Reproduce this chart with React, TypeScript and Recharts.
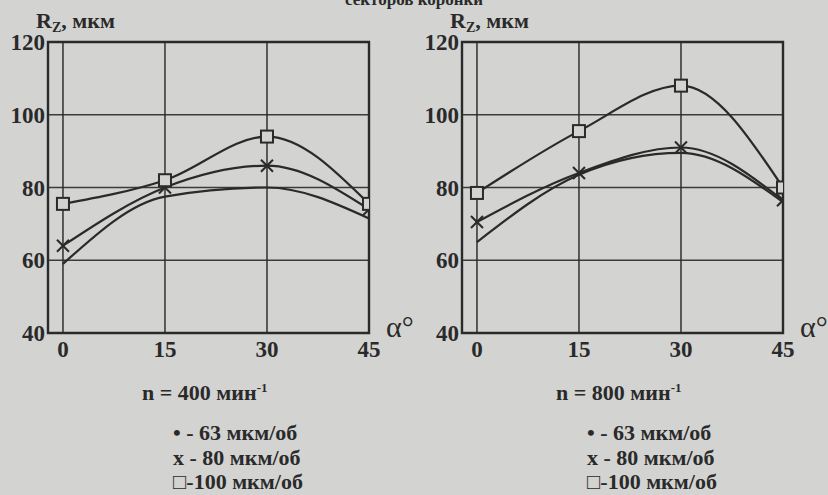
import * as React from 'react'
import { CartesianGrid, Line, LineChart, ReferenceArea, XAxis, YAxis } from 'recharts'

// DATA

const ANGLES = [0, 15, 30, 45]
const Y_TICKS = [40, 60, 80, 100, 120]

const RZ_400_63 = [59, 77.5, 80, 71.5]
const RZ_400_80 = [64, 80, 86, 74]
const RZ_400_100 = [75.5, 82, 94, 75.5]

const RZ_800_63 = [65, 83.5, 89.5, 76]
const RZ_800_80 = [70.5, 84, 91, 76.5]
const RZ_800_100 = [78.5, 95.5, 108, 80]

const FEEDS = ['63 мкм/об', '80 мкм/об', '100 мкм/об']
const FEED_MARKS = ['•', 'x', '□']
const SPEEDS = ['400', '800']

// STYLE

const BG = '#d3d3d1'
const INK = '#2a2a2a'
const FONT = '"Liberation Serif", "DejaVu Serif", serif'
const X_MIN = -2.2

const tickStyle = { fill: INK, fontFamily: FONT, fontWeight: 'bold', fontSize: 23 }
const textStyle: React.CSSProperties = { position: 'absolute', fontFamily: FONT, fontWeight: 'bold', fontSize: 22, color: INK, whiteSpace: 'nowrap', lineHeight: '26px' }

const CrossDot = (props: any) => {
    const { cx, cy } = props
    if (cx == null || cy == null) return null
    return (
        <g stroke={INK} strokeWidth={2}>
            <line x1={cx - 6} y1={cy - 6} x2={cx + 6} y2={cy + 6}/>
            <line x1={cx - 6} y1={cy + 6} x2={cx + 6} y2={cy - 6}/>
        </g>
    )
}

const SquareDot = (props: any) => {
    const { cx, cy } = props
    if (cx == null || cy == null) return null
    return <rect x={cx - 6} y={cy - 6} width={12} height={12} fill={BG} stroke={INK} strokeWidth={2}/>
}

const Panel = (props: { left: number, rows: number[][], speed: string }) => {
    const data = ANGLES.map((a, i) => ({ a, s63: props.rows[0][i], s80: props.rows[1][i], s100: props.rows[2][i] }))

    return (
        <div style={{ position: 'absolute', left: props.left, top: 0, width: 414, height: 495 }}>
            <LineChart width={414} height={495} data={data} margin={{ top: 42, right: 45, bottom: 132, left: 8 }}>
                <XAxis dataKey='a' type='number' domain={[X_MIN, 45]} ticks={ANGLES} height={30} axisLine={false} tickLine={false} tickMargin={2} tick={tickStyle} allowDataOverflow/>
                <YAxis type='number' domain={[40, 120]} ticks={Y_TICKS} width={40} axisLine={false} tickLine={false} tickSize={0} tickMargin={3} tick={tickStyle}/>
                <CartesianGrid stroke={INK} strokeWidth={1.6} strokeOpacity={0.9}/>
                <ReferenceArea x1={X_MIN} x2={45} y1={40} y2={120} fill='none' stroke={INK} strokeWidth={2.4} ifOverflow='extendDomain'/>
                <Line type='monotone' dataKey='s63' isAnimationActive={false} stroke={INK} strokeWidth={2.2} dot={false}/>
                <Line type='monotone' dataKey='s80' isAnimationActive={false} stroke={INK} strokeWidth={2.2} dot={<CrossDot/>}/>
                <Line type='monotone' dataKey='s100' isAnimationActive={false} stroke={INK} strokeWidth={2.2} dot={<SquareDot/>}/>
            </LineChart>
            <div style={{ ...textStyle, left: 36, top: 11, lineHeight: '19px' }}>
                R<span style={{ fontSize: 14, position: 'relative', top: 4 }}>Z</span>, мкм
            </div>
            <div style={{ ...textStyle, left: 386, top: 312, fontSize: 30, fontWeight: 'normal', lineHeight: '30px' }}>α°</div>
            <div style={{ ...textStyle, left: 142, top: 375 }}>
                n = {props.speed} мин<sup style={{ fontSize: 13 }}>-1</sup>
            </div>
            {FEEDS.map((f, i) => (
                <div key={f} style={{ ...textStyle, left: 173, top: 420 + i * 24.5 }}>
                    {FEED_MARKS[i]}{i === 2 ? '-' : ' - '}{f}
                </div>
            ))}
        </div>
    )
}

export default function App() {
    return (
        <div style={{ position: 'absolute', left: 0, top: 0, width: 828, height: 495, background: BG, overflow: 'hidden' }}>
            <div style={{ ...textStyle, left: 345, top: -8, fontSize: 17, lineHeight: '16px' }}>секторов коронки</div>
            <Panel left={0} rows={[RZ_400_63, RZ_400_80, RZ_400_100]} speed={SPEEDS[0]}/>
            <Panel left={414} rows={[RZ_800_63, RZ_800_80, RZ_800_100]} speed={SPEEDS[1]}/>
        </div>
    )
}
